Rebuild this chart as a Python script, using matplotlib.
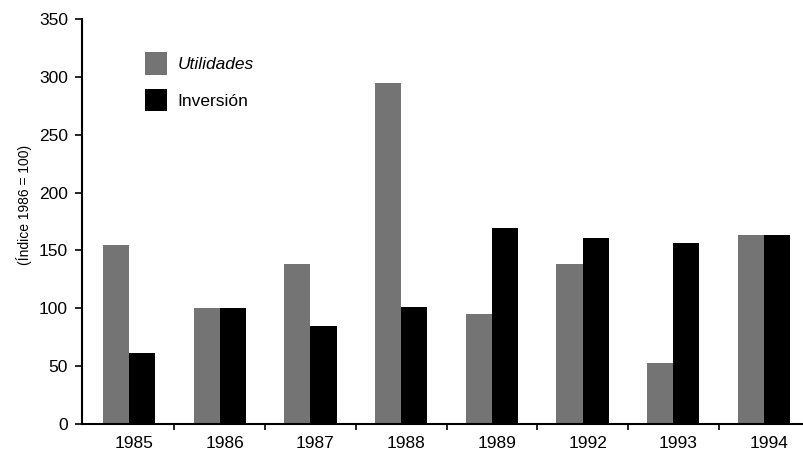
import matplotlib
matplotlib.use("Agg")
import matplotlib.pyplot as plt
import matplotlib.transforms as mtransforms
import numpy as np

years = ["1985", "1986", "1987", "1988", "1989", "1992", "1993", "1994"]
utilidades = [155, 100, 138, 295, 95, 138, 53, 163]
inversion = [61, 100, 85, 101, 169, 161, 156, 163]

plt.rcParams['font.family'] = ['Liberation Sans', 'DejaVu Sans']

fig = plt.figure(figsize=(8.04, 4.54), dpi=100)
ax = fig.add_axes([82/804, 30/454, 1 - 82/804, (424-19)/454])

x = np.arange(len(years))
w = 0.288
ax.bar(x - w/2, utilidades, width=w, color='#747474', label='Utilidades')
ax.bar(x + w/2, inversion, width=w, color='#000000', label='Inversión')

ax.set_xlim(-0.518, 7.44)
ax.set_ylim(0, 350)
ax.set_yticks(range(0, 351, 50))
ax.set_xticks(x)
ax.set_xticklabels(years, fontsize=12.5)
ax.set_xticks(x[:-1] + 0.5, minor=True)
ax.tick_params(axis='x', which='major', length=0, pad=9)
ax.tick_params(axis='x', which='minor', length=4, width=1.2, direction='out')
ax.tick_params(axis='y', length=5, width=1.2, direction='out', labelsize=12.5, pad=5)
offset = mtransforms.ScaledTranslation(5/100, 0, fig.dpi_scale_trans)
for lbl in ax.get_xticklabels():
    lbl.set_transform(lbl.get_transform() + offset)

for s in ['top', 'right']:
    ax.spines[s].set_visible(False)
ax.spines['left'].set_linewidth(1.5)
ax.spines['bottom'].set_linewidth(1.5)

ax.set_ylabel('(Índice 1986 = 100)', fontsize=10)
ax.yaxis.set_label_coords(-0.069, 0.54)

leg = ax.legend(loc='upper left', bbox_to_anchor=(0.078, 0.935), frameon=False,
                fontsize=12.5, handlelength=1.27, handleheight=1.6, handletextpad=0.6,
                labelspacing=0.82, borderaxespad=0)
leg.get_texts()[0].set_style('italic')

fig.savefig('out.png', dpi=100)
